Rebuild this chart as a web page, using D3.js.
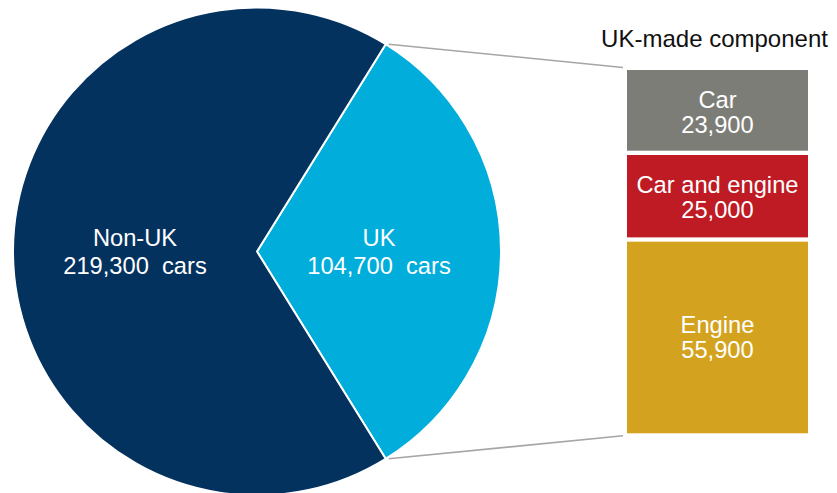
<!DOCTYPE html>
<html>
<head>
<meta charset="utf-8">
<script src="https://cdn.jsdelivr.net/npm/d3@7"></script>
<style>
  html, body { margin: 0; padding: 0; background: #fff; }
  svg { display: block; }
  text { font-family: "Liberation Sans", Arial, sans-serif; }
</style>
</head>
<body>
<svg id="chart" width="837" height="493"></svg>
<script>
// ---- data ----
const pieLabels = ["UK", "Non-UK"];
const pieValues = [104700, 219300];
const pieColors = ["#00addb", "#03325f"];

const barLabels = ["Car", "Car and engine", "Engine"];
const barValues = [23900, 25000, 55900];
const barColors = ["#7d7d77", "#be1b24", "#d3a31f"];

const barTitle = "UK-made component";

// ---- layout ----
const svg = d3.select("#chart");
const cx = 257, cy = 251.5, R = 244;
const barX0 = 627, barX1 = 808, barTop = 70, barBottom = 433.3;
const gap = 4.3;
const fmt = d3.format(",");

// ---- pie ----
const total = d3.sum(pieValues);
const ukAngle = pieValues[0] / total * 2 * Math.PI;
const start = Math.PI / 2 - ukAngle / 2;
const pie = d3.pie().sort(null).startAngle(start).endAngle(start + 2 * Math.PI);
const arcs = pie(pieValues);
const arc = d3.arc().innerRadius(0).outerRadius(R);

const g = svg.append("g").attr("transform", `translate(${cx},${cy})`);
g.selectAll("path").data(arcs).join("path")
  .attr("d", arc)
  .attr("fill", (d, i) => pieColors[i])
  .attr("stroke", "#fff")
  .attr("stroke-width", 2)
  .attr("stroke-linejoin", "round");

arcs.forEach((d, i) => {
  const a = (d.startAngle + d.endAngle) / 2;
  const x = Math.sin(a) * R / 2;
  const y = -Math.cos(a) * R / 2;
  const t = g.append("text").attr("text-anchor", "middle")
    .attr("fill", "#fff").style("font-size", "23.7px");
  t.append("tspan").attr("x", x).attr("y", y - 5.5).text(pieLabels[i]);
  t.append("tspan").attr("x", x).attr("y", y + 22.5)
    .text(fmt(pieValues[i]) + "\u00a0 cars");
});

// ---- stacked bar ----
const barTotal = d3.sum(barValues);
const y = d3.scaleLinear().domain([0, barTotal]).range([barTop, barBottom]);
let cum = 0;
const stacked = barValues.map((v, i) => {
  const s = cum; cum += v;
  return { i, s, e: cum, v };
});

svg.selectAll("rect.bar").data(stacked).join("rect")
  .attr("class", "bar")
  .attr("x", barX0)
  .attr("width", barX1 - barX0)
  .attr("y", d => y(d.s) + (d.i > 0 ? gap / 2 : 0))
  .attr("height", d => y(d.e) - y(d.s) - (d.i > 0 ? gap / 2 : 0) - (d.i < stacked.length - 1 ? gap / 2 : 0))
  .attr("fill", d => barColors[d.i]);

stacked.forEach(d => {
  const yc = (y(d.s) + y(d.e)) / 2;
  const xc = (barX0 + barX1) / 2;
  const t = svg.append("text").attr("text-anchor", "middle")
    .attr("fill", "#fff").style("font-size", "23.7px");
  t.append("tspan").attr("x", xc).attr("y", yc - 3.5).text(barLabels[d.i]);
  t.append("tspan").attr("x", xc).attr("y", yc + 22).text(fmt(d.v));
});

svg.append("text")
  .attr("x", (barX0 + barX1) / 2 - 3)
  .attr("y", 47)
  .attr("text-anchor", "middle")
  .attr("fill", "#111")
  .style("font-size", "24px")
  .text(barTitle);

// ---- connector lines ----
const ukStart = arcs[0].startAngle, ukEnd = arcs[0].endAngle;
const p1 = [cx + Math.sin(ukStart) * R + 3, cy - Math.cos(ukStart) * R];
const p2 = [cx + Math.sin(ukEnd) * R + 3, cy - Math.cos(ukEnd) * R];
svg.append("line")
  .attr("x1", p1[0]).attr("y1", p1[1])
  .attr("x2", barX0 - 4).attr("y2", y(0) - 2.5)
  .attr("stroke", "#a6a6a6").attr("stroke-width", 1.6);
svg.append("line")
  .attr("x1", p2[0]).attr("y1", p2[1])
  .attr("x2", barX0 - 4).attr("y2", y(barTotal) + 2.5)
  .attr("stroke", "#a6a6a6").attr("stroke-width", 1.6);
</script>
</body>
</html>
